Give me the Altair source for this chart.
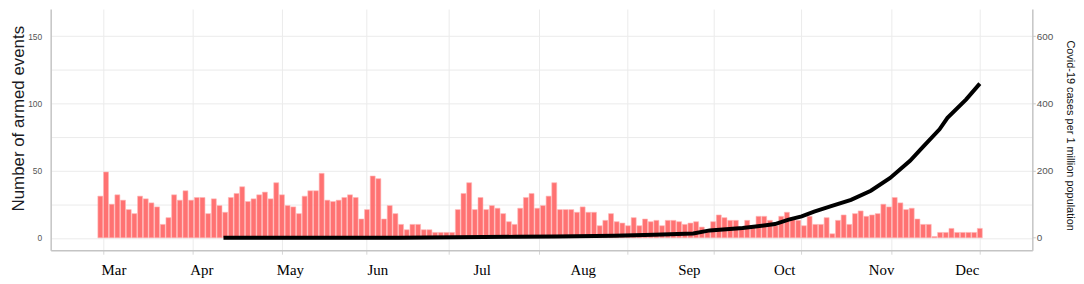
import altair as alt
import pandas as pd

# Daily armed events (bar heights, left axis)
events = [31, 49, 25, 32, 28, 21, 18, 31, 29, 26, 23, 10, 15, 32, 28, 35, 28, 30, 30, 18,
          29, 24, 19, 30, 33, 38, 27, 29, 32, 34, 29, 41, 32, 24, 23, 18, 31, 35, 35, 48,
          28, 27, 28, 30, 32, 30, 14, 21, 46, 44, 14, 24, 18, 10, 6, 10, 10, 6, 6, 4,
          4, 4, 4, 21, 33, 41, 21, 30, 21, 24, 22, 18, 12, 10, 22, 30, 33, 22, 24, 31,
          41, 21, 21, 21, 19, 23, 19, 19, 9, 13, 18, 12, 11, 9, 15, 9, 14, 12, 13, 9,
          13, 13, 12, 10, 11, 12, 8, 5, 12, 17, 15, 13, 13, 8, 13, 9, 16, 16, 13, 9,
          16, 19, 15, 13, 9, 16, 10, 10, 15, 3, 13, 17, 10, 18, 20, 16, 17, 18, 25, 23,
          30, 26, 21, 22, 14, 10, 10, 1, 4, 4, 7, 4, 4, 4, 4, 7]
bar_idx = list(range(1, len(events) + 1))

# Covid-19 cases per 1 million population (right axis), read at bar positions
case_idx = [22.7, 36.2, 53.6, 63.9, 74.3, 81.3, 91.6, 98.6, 105.5, 108.4, 114.2, 119.9,
            122.3, 124.6, 126.8, 129.8, 133.3, 136.8, 140.2, 143.7, 145.9, 148.9, 150.3,
            153.6, 156.0]
cases = [0, 0, 0.5, 1.5, 3, 4, 6, 9, 13, 22, 29, 41, 54, 64, 78, 94, 113, 140, 178,
         229, 269, 323, 357, 412, 459]

# Month annotations under the axis (in bar-index units)
months = ["Mar", "Apr", "May", "Jun", "Jul", "Aug", "Sep", "Oct", "Nov", "Dec"]
month_idx = [3.4, 18.9, 34.5, 49.9, 68.3, 86.1, 104.8, 121.6, 138.7, 153.8]

# Vertical grid positions (bar-index units)
grid_x = [1.43, 17.2, 33.0, 47.8, 62.4, 78.3, 93.9, 109.1, 124.5, 140.5, 156.0]

left_ticks = [0, 25, 50, 75, 100, 125, 150]
right_ticks = [0, 200, 400, 600]

bars_df = pd.DataFrame({"idx": bar_idx, "events": events})
line_df = pd.DataFrame({"idx": case_idx, "cases": cases})
month_df = pd.DataFrame({"idx": month_idx, "month": months})

FONT = "Liberation Sans"
GRID = "#ebebeb"
FRAME = "#c4c4c4"

xscale = alt.Scale(domain=[-6.88, 164.38], nice=False, zero=False)
xaxis = alt.Axis(values=grid_x, labels=False, title="", grid=True, gridColor=GRID,
                 domainColor=FRAME, domainWidth=1.5, tickColor="#d6d6d6", tickSize=4)
xenc = alt.X("idx:Q", scale=xscale, axis=xaxis)

bars = alt.Chart(bars_df).mark_bar(
    width=5, color="#ff6b6b", stroke="#ffb4b4", strokeWidth=0.6, opacity=0.95
).encode(
    x=xenc,
    y=alt.Y("events:Q",
            scale=alt.Scale(domain=[-9.23, 170.24], nice=False, zero=False),
            axis=alt.Axis(values=left_ticks, orient="left",
                          labelExpr="datum.value % 50 == 0 ? datum.label : ''",
                          grid=True, gridColor=GRID, domainColor=FRAME, domainWidth=1.5,
                          tickSize=0, labelPadding=9, labelFontSize=8.5,
                          labelColor="#555555", labelFont=FONT,
                          title="Number of armed events", titleFont=FONT,
                          titleFontSize=17, titleFontWeight="normal",
                          titleColor="#1b1b24", titleAngle=-90, titleAlign="center",
                          titleBaseline="alphabetic", titleX=-27, titleY=110)),
    y2=alt.datum(0),
)

line = alt.Chart(line_df).mark_line(color="black", strokeWidth=4, strokeCap="butt").encode(
    x=xenc,
    y=alt.Y("cases:Q",
            scale=alt.Scale(domain=[-36.93, 680.96], nice=False, zero=False),
            axis=alt.Axis(values=right_ticks, orient="right", grid=False,
                          domainColor=FRAME, domainWidth=1.5, tickSize=3,
                          tickColor="#c8c8c8", labelPadding=1, labelFontSize=10,
                          labelColor="#555555", labelFont=FONT,
                          title="Covid-19 cases per 1 million population",
                          titleFont=FONT, titleFontSize=11, titleFontWeight="normal",
                          titleColor="#111111", titleAngle=90, titleAlign="center",
                          titleBaseline="alphabetic", titleX=34.5, titleY=127)),
)

month_text = alt.Chart(month_df).mark_text(
    font="Liberation Serif", fontSize=15, color="black", baseline="alphabetic", align="center"
).encode(
    x=xenc,
    y=alt.value(268),
    text="month:N",
)

chart = alt.layer(bars, line, month_text).resolve_scale(y="independent").properties(
    width=989, height=243,
    autosize=alt.AutoSizeParams(type="none"),
    padding={"left": 43, "top": 0, "right": 44, "bottom": 33},
).configure_view(strokeWidth=0)

chart.save("out.html", embed_options={"renderer": "svg", "actions": False})
